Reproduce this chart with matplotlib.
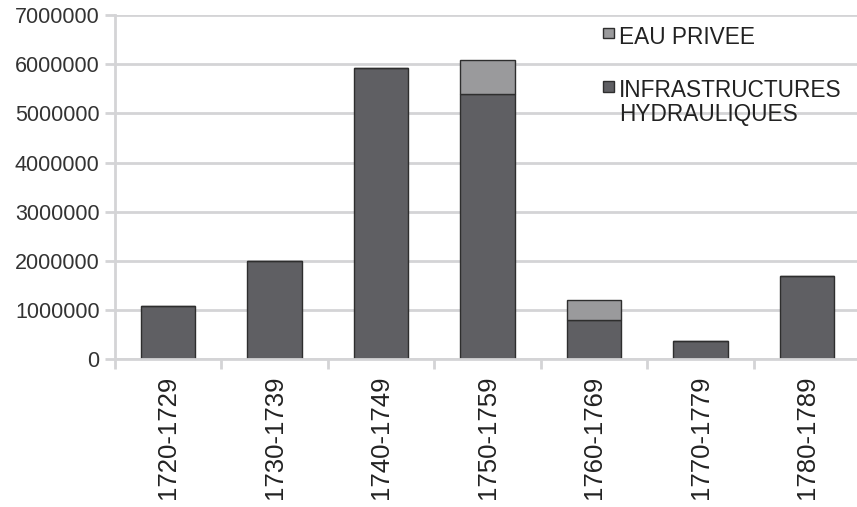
import matplotlib.pyplot as plt
from matplotlib.patches import Rectangle
import numpy as np

plt.rcParams['font.family'] = ['Liberation Sans', 'DejaVu Sans']

decades = ['1720-1729', '1730-1739', '1740-1749', '1750-1759',
           '1760-1769', '1770-1779', '1780-1789']
infrastructures = [1080000, 2000000, 5920000, 5400000, 800000, 370000, 1690000]
eau_privee = [0, 0, 0, 680000, 400000, 0, 0]
series_labels = ['EAU PRIVEE', 'INFRASTRUCTURES\nHYDRAULIQUES']
series_colors = ['#9a9a9c', '#5f5f63']

fig = plt.figure(figsize=(8.57, 5.07), dpi=100)
ax = fig.add_axes([0.134, 0.292, 0.87, 0.678])

x = np.arange(len(decades))
ax.bar(x, infrastructures, width=0.51, color=series_colors[1], edgecolor='#2e2e2e', lw=1)
ax.bar(x, eau_privee, width=0.51, bottom=infrastructures,
       color=series_colors[0], edgecolor='#2e2e2e', lw=1)

ax.set_xlim(-0.5, len(decades) - 0.5)
ax.set_ylim(0, 7000000)
ax.set_yticks(np.arange(0, 7000001, 1000000))
ax.set_yticklabels(['%d' % v for v in np.arange(0, 7000001, 1000000)])
ax.yaxis.grid(True, color='#d4d4d6', lw=2)
ax.set_axisbelow(True)

ax.set_xticks(x)
ax.set_xticklabels(decades, rotation=90)
ax.set_xticks(np.arange(-0.5, len(decades)), minor=True)
ax.tick_params(axis='x', which='major', length=0, pad=12, labelsize=18.5, colors='#222222')
ax.tick_params(axis='x', which='minor', length=7, width=2, color='#d4d4d6')
ax.tick_params(axis='y', length=7, width=2, color='#d4d4d6', labelsize=15.5,
               labelcolor='#333333', pad=4)

for side in ['top', 'right']:
    ax.spines[side].set_visible(False)
for side in ['left', 'bottom']:
    ax.spines[side].set_color('#d4d4d6')
    ax.spines[side].set_linewidth(2)

# legend drawn by hand so the swatch sits beside the first line of each label
legend_y = [0.945, 0.79]
for label, color, ly in zip(series_labels, series_colors, legend_y):
    ax.add_patch(Rectangle((0.655, ly - 0.012), 0.014, 0.03, transform=ax.transAxes,
                           facecolor=color, edgecolor='#2e2e2e', lw=1, clip_on=False))
    ax.text(0.676, ly + 0.025, label, transform=ax.transAxes, fontsize=16.3,
            color='#222222', va='top', ha='left', linespacing=1.05)

fig.savefig('out.png', dpi=100)
